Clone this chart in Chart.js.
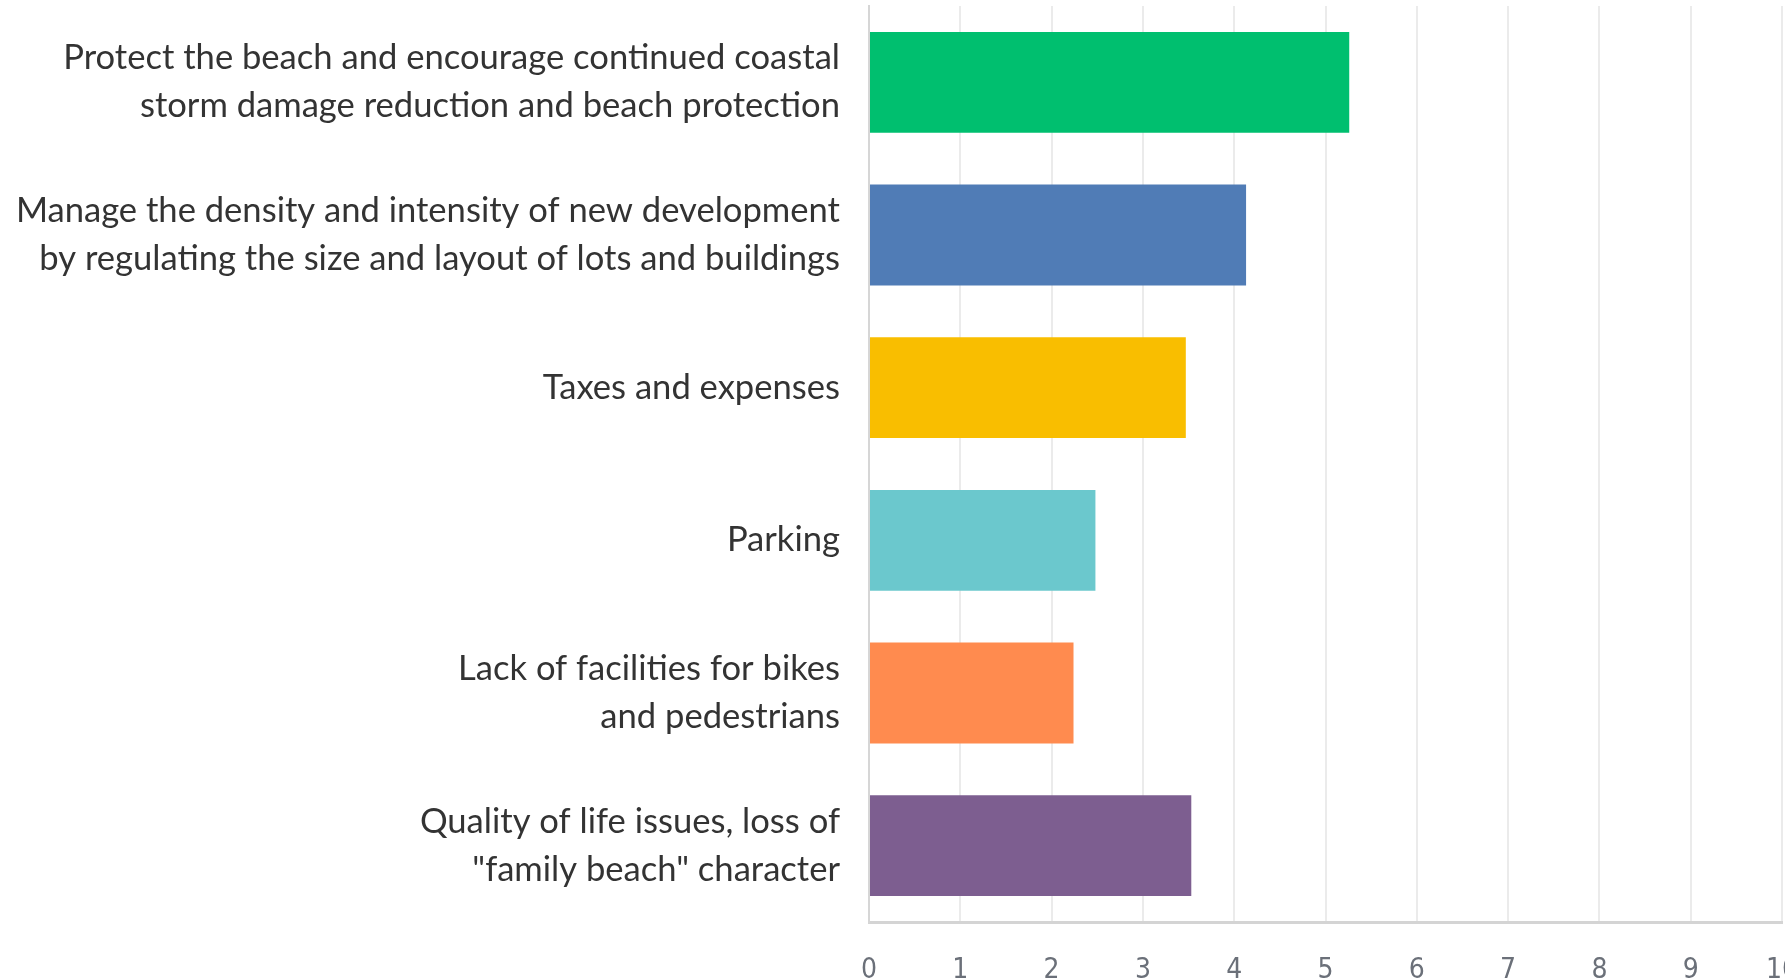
<!DOCTYPE html>
<html>
<head>
<meta charset="utf-8">
<script src="https://cdn.jsdelivr.net/npm/chart.js@4"></script>
<style>
  html, body { margin: 0; padding: 0; background: #fff; }
  #wrap { width: 1785px; height: 980px; }
</style>
</head>
<body>
<div id="wrap"><canvas id="issuesChart" width="1785" height="980"></canvas></div>
<script>
// survey answers, top to bottom
const categories = [
    ['Protect the beach and encourage continued coastal', 'storm damage reduction and beach protection'],
    ['Manage the density and intensity of new development', 'by regulating the size and layout of lots and buildings'],
    'Taxes and expenses',
    'Parking',
    ['Lack of facilities for bikes', 'and pedestrians'],
    ['Quality of life issues, loss of', '"family beach" character']
];
const scores = [5.26, 4.13, 3.47, 2.48, 2.24, 3.53];
const barColors = ['#00bf6f', '#507cb6', '#f9be00', '#6bc8cd', '#ff8b4f', '#7d5e90'];
const xTicks = [0, 1, 2, 3, 4, 5, 6, 7, 8, 9, 10];

document.addEventListener('DOMContentLoaded', function() {
    const ctx = document.getElementById('issuesChart').getContext('2d');

    new Chart(ctx, {
        type: 'bar',
        data: {
            labels: categories,
            datasets: [{
                data: scores,
                backgroundColor: barColors,
                borderWidth: 0,
                barPercentage: 0.66,
                categoryPercentage: 1
            }]
        },
        options: {
            indexAxis: 'y',
            responsive: false,
            animation: false,
            layout: { padding: { top: 6, right: 3, bottom: 0, left: 0 } },
            plugins: {
                legend: { display: false },
                tooltip: { enabled: false }
            },
            scales: {
                x: {
                    min: xTicks[0],
                    max: xTicks[xTicks.length - 1],
                    afterBuildTicks: function(scale) {
                        scale.ticks = xTicks.map(v => ({ value: v }));
                    },
                    afterFit: function(scale) {
                        scale.height = 58;
                        scale.paddingRight = 0;
                        scale.paddingLeft = 0;
                    },
                    grid: {
                        color: '#ebebeb',
                        lineWidth: 2,
                        drawTicks: false
                    },
                    border: { color: '#d4d4d4', width: 3 },
                    ticks: {
                        padding: 32,
                        color: '#6b7079',
                        font: { family: '"Liberation Sans Narrow", "DejaVu Sans Condensed", Roboto, sans-serif', size: 28 }
                    }
                },
                y: {
                    afterFit: function(scale) {
                        scale.width = 869;
                        scale.paddingTop = 0;
                        scale.paddingBottom = 0;
                    },
                    grid: { display: false, drawTicks: false },
                    border: { color: '#d6d6d6', width: 2 },
                    ticks: {
                        padding: 29,
                        color: '#333333',
                        font: { family: 'Lato, "Open Sans", sans-serif', size: 34.6, lineHeight: '48px' }
                    }
                }
            }
        }
    });
});
</script>
</body>
</html>
